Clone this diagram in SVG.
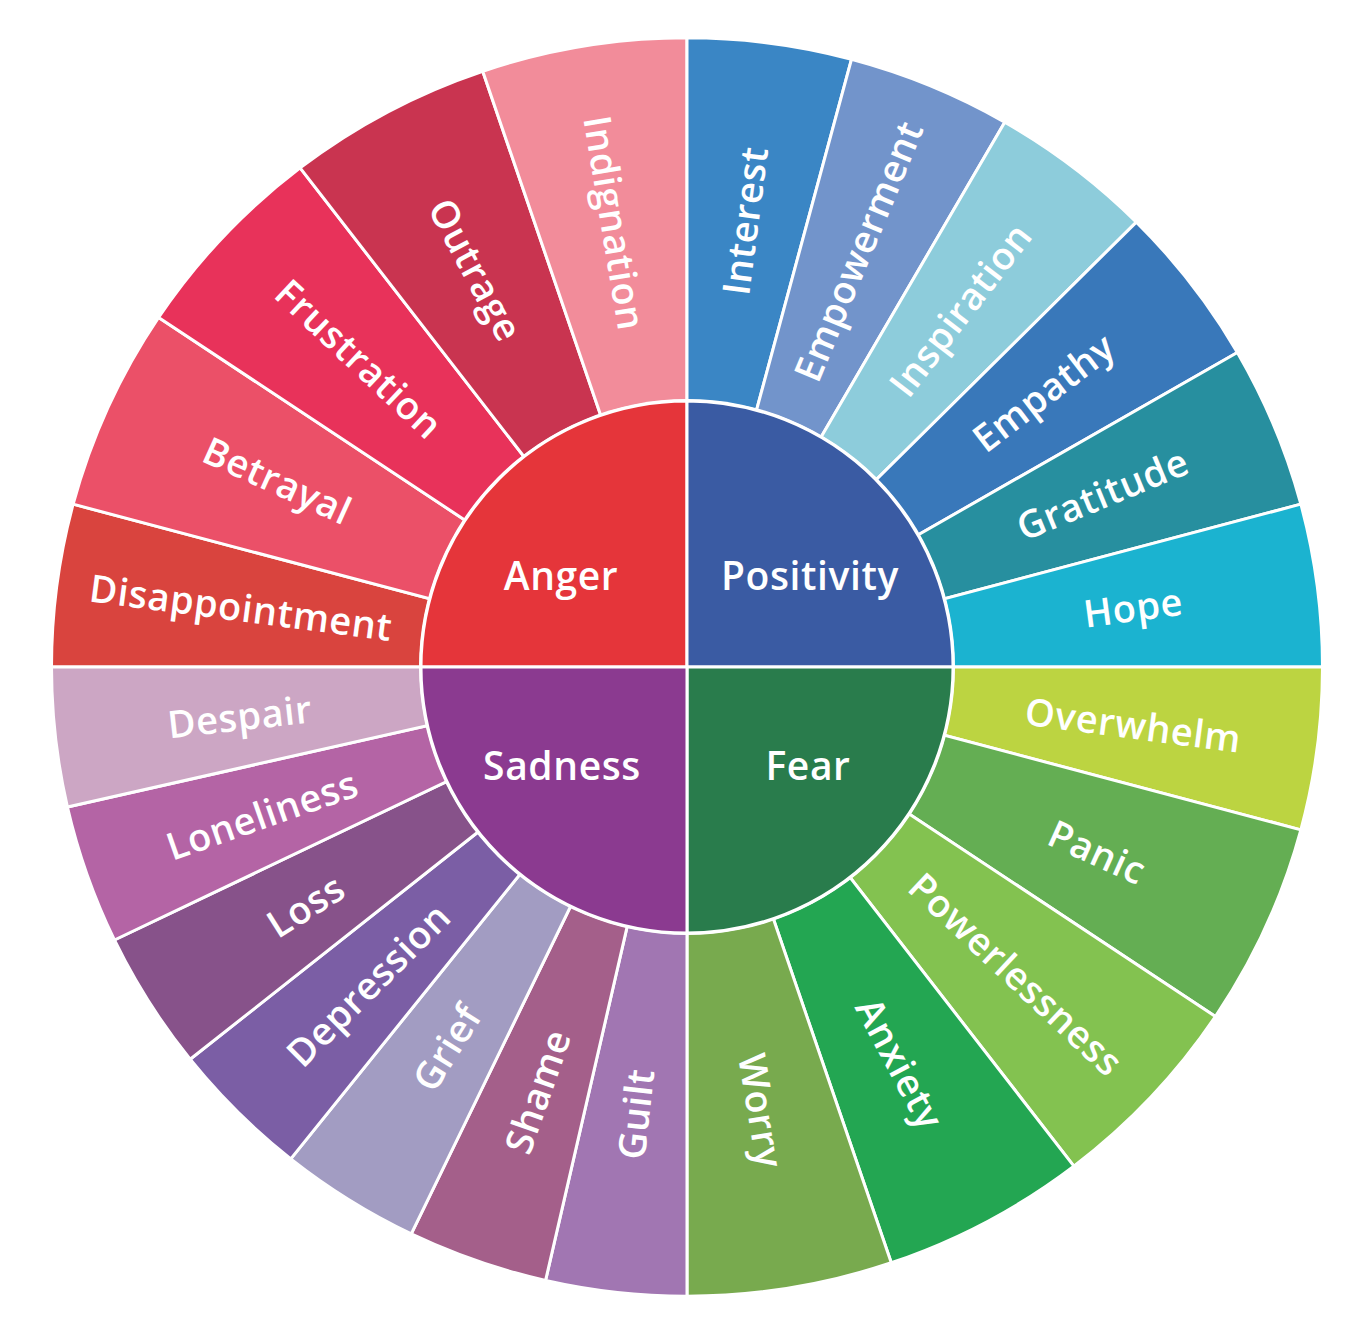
<svg xmlns="http://www.w3.org/2000/svg" width="1370" height="1333" viewBox="0 0 1370 1333">
<style>
.seg{stroke:#ffffff;stroke-width:3;stroke-linejoin:round}
.lbl{font-family:"Open Sans","Liberation Sans",sans-serif;font-size:38px;font-weight:600;letter-spacing:0.6px;fill:#ffffff;text-anchor:middle}
.ctr{font-family:"Open Sans","Liberation Sans",sans-serif;font-size:39px;font-weight:600;letter-spacing:0.6px;fill:#ffffff;text-anchor:middle}
</style>
<rect width="1370" height="1333" fill="#ffffff"/>
<g id="outer-ring" transform="translate(687,667) scale(1,0.99)">
  <g id="anger-segments">
    <path id="seg-disappointment" class="seg" fill="#d9443e" d="M0,0 L-635.5,0 A635.5,635.5 0 0 1 -613.85,-164.48 Z"/>
    <path id="seg-betrayal" class="seg" fill="#eb5068" d="M0,0 L-613.85,-164.48 A635.5,635.5 0 0 1 -528.40,-353.06 Z"/>
    <path id="seg-frustration" class="seg" fill="#e8325a" d="M0,0 L-528.40,-353.06 A635.5,635.5 0 0 1 -386.87,-504.18 Z"/>
    <path id="seg-outrage" class="seg" fill="#c93450" d="M0,0 L-386.87,-504.18 A635.5,635.5 0 0 1 -204.27,-601.77 Z"/>
    <path id="seg-indignation" class="seg" fill="#f28c9a" d="M0,0 L-204.27,-601.77 A635.5,635.5 0 0 1 0,-635.5 Z"/>
  </g>
  <g id="positivity-segments">
    <path id="seg-interest" class="seg" fill="#3a86c5" d="M0,0 L0,-635.5 A635.5,635.5 0 0 1 164.48,-613.85 Z"/>
    <path id="seg-empowerment" class="seg" fill="#7294cb" d="M0,0 L164.48,-613.85 A635.5,635.5 0 0 1 317.75,-550.36 Z"/>
    <path id="seg-inspiration" class="seg" fill="#8dccdb" d="M0,0 L317.75,-550.36 A635.5,635.5 0 0 1 449.37,-449.37 Z"/>
    <path id="seg-empathy" class="seg" fill="#3978ba" d="M0,0 L449.37,-449.37 A635.5,635.5 0 0 1 550.36,-317.75 Z"/>
    <path id="seg-gratitude" class="seg" fill="#278f9f" d="M0,0 L550.36,-317.75 A635.5,635.5 0 0 1 613.85,-164.48 Z"/>
    <path id="seg-hope" class="seg" fill="#1bb3d0" d="M0,0 L613.85,-164.48 A635.5,635.5 0 0 1 635.5,0 Z"/>
  </g>
  <g id="fear-segments">
    <path id="seg-overwhelm" class="seg" fill="#bcd441" d="M0,0 L635.5,0 A635.5,635.5 0 0 1 613.85,164.48 Z"/>
    <path id="seg-panic" class="seg" fill="#64ae53" d="M0,0 L613.85,164.48 A635.5,635.5 0 0 1 528.40,353.06 Z"/>
    <path id="seg-powerlessness" class="seg" fill="#83c250" d="M0,0 L528.40,353.06 A635.5,635.5 0 0 1 386.87,504.18 Z"/>
    <path id="seg-anxiety" class="seg" fill="#23a652" d="M0,0 L386.87,504.18 A635.5,635.5 0 0 1 204.27,601.77 Z"/>
    <path id="seg-worry" class="seg" fill="#78aa4e" d="M0,0 L204.27,601.77 A635.5,635.5 0 0 1 0,635.5 Z"/>
  </g>
  <g id="sadness-segments">
    <path id="seg-guilt" class="seg" fill="#a176b2" d="M0,0 L0,635.5 A635.5,635.5 0 0 1 -141.41,619.57 Z"/>
    <path id="seg-shame" class="seg" fill="#a45f8a" d="M0,0 L-141.41,619.57 A635.5,635.5 0 0 1 -275.73,572.57 Z"/>
    <path id="seg-grief" class="seg" fill="#a29cc2" d="M0,0 L-275.73,572.57 A635.5,635.5 0 0 1 -396.23,496.85 Z"/>
    <path id="seg-depression" class="seg" fill="#7b5ea5" d="M0,0 L-396.23,496.85 A635.5,635.5 0 0 1 -496.85,396.23 Z"/>
    <path id="seg-loss" class="seg" fill="#87528a" d="M0,0 L-496.85,396.23 A635.5,635.5 0 0 1 -572.57,275.73 Z"/>
    <path id="seg-loneliness" class="seg" fill="#b464a5" d="M0,0 L-572.57,275.73 A635.5,635.5 0 0 1 -619.57,141.41 Z"/>
    <path id="seg-despair" class="seg" fill="#cca6c4" d="M0,0 L-619.57,141.41 A635.5,635.5 0 0 1 -635.5,0 Z"/>
  </g>
</g>
<g id="inner-circle" transform="translate(687,667)">
  <circle r="268" fill="#ffffff"/>
  <path id="anger" class="seg" fill="#e5353a" d="M0,0 L-266,0 A266,266 0 0 1 0,-266 Z"/>
  <path id="positivity" class="seg" fill="#3a5ba3" d="M0,0 L0,-266 A266,266 0 0 1 266,0 Z"/>
  <path id="fear" class="seg" fill="#297c4c" d="M0,0 L266,0 A266,266 0 0 1 0,266 Z"/>
  <path id="sadness" class="seg" fill="#8b3a90" d="M0,0 L0,266 A266,266 0 0 1 -266,0 Z"/>
</g>
<g id="center-labels">
  <text class="ctr" x="561" y="590">Anger</text>
  <text class="ctr" x="810" y="590">Positivity</text>
  <text class="ctr" x="562" y="780">Sadness</text>
  <text class="ctr" x="808" y="780">Fear</text>
</g>
<g id="labels" transform="translate(687,667)">
  <text class="lbl" dy="13" transform="rotate(187.5) translate(450,0) rotate(180)">Disappointment</text>
  <text class="lbl" dy="13" transform="rotate(204.375) translate(450,0) rotate(180)">Betrayal</text>
  <text class="lbl" dy="13" transform="rotate(223.125) translate(450,0) rotate(180)">Frustration</text>
  <text class="lbl" dy="13" transform="rotate(241.875) translate(450,0) rotate(180)">Outrage</text>
  <text class="lbl" dy="13" transform="rotate(260.625) translate(450,0) rotate(180)">Indignation</text>
  <text class="lbl" dy="13" transform="rotate(-82.5) translate(450,0)">Interest</text>
  <text class="lbl" dy="13" transform="rotate(-67.5) translate(450,0)">Empowerment</text>
  <text class="lbl" dy="13" transform="rotate(-52.5) translate(450,0)">Inspiration</text>
  <text class="lbl" dy="13" transform="rotate(-37.5) translate(450,0)">Empathy</text>
  <text class="lbl" dy="13" transform="rotate(-22.5) translate(450,0)">Gratitude</text>
  <text class="lbl" dy="13" transform="rotate(-7.5) translate(450,0)">Hope</text>
  <text class="lbl" dy="13" transform="rotate(7.5) translate(450,0)">Overwhelm</text>
  <text class="lbl" dy="13" transform="rotate(24.375) translate(450,0)">Panic</text>
  <text class="lbl" dy="13" transform="rotate(43.125) translate(450,0)">Powerlessness</text>
  <text class="lbl" dy="13" transform="rotate(61.875) translate(450,0)">Anxiety</text>
  <text class="lbl" dy="13" transform="rotate(80.625) translate(450,0)">Worry</text>
  <text class="lbl" dy="13" transform="rotate(96.43) translate(450,0) rotate(180)">Guilt</text>
  <text class="lbl" dy="13" transform="rotate(109.29) translate(450,0) rotate(180)">Shame</text>
  <text class="lbl" dy="13" transform="rotate(122.14) translate(450,0) rotate(180)">Grief</text>
  <text class="lbl" dy="13" transform="rotate(135) translate(450,0) rotate(180)">Depression</text>
  <text class="lbl" dy="13" transform="rotate(147.86) translate(450,0) rotate(180)">Loss</text>
  <text class="lbl" dy="13" transform="rotate(160.71) translate(450,0) rotate(180)">Loneliness</text>
  <text class="lbl" dy="13" transform="rotate(173.57) translate(450,0) rotate(180)">Despair</text>
</g>
</svg>
